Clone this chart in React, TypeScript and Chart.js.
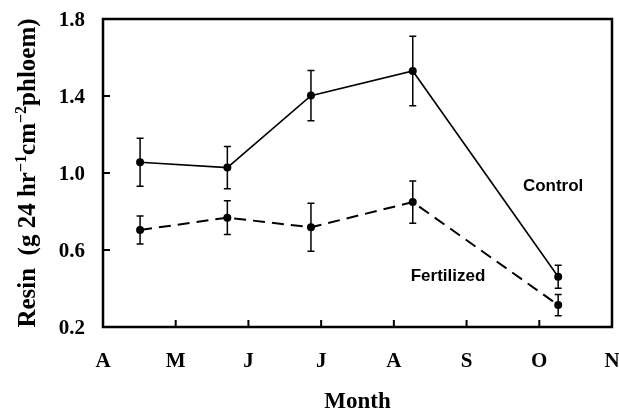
import React, { useEffect, useRef } from 'react';
import { Chart, registerables } from 'chart.js';

Chart.register(...registerables);

// ---- data ----
const monthLabels = ['A', 'M', 'J', 'J', 'A', 'S', 'O', 'N'];
const monthTicks = [0, 1, 2, 3, 4, 5, 6, 7];
const yTicks = [0.2, 0.6, 1.0, 1.4, 1.8];
const sampleMonths = [0.51, 1.71, 2.86, 4.26, 6.26];
const controlMean = [1.056, 1.028, 1.402, 1.53, 0.461];
const controlErr = [0.125, 0.11, 0.13, 0.18, 0.06];
const fertilizedMean = [0.704, 0.768, 0.718, 0.849, 0.314];
const fertilizedErr = [0.073, 0.088, 0.125, 0.11, 0.055];
const seriesNames = ['Control', 'Fertilized'];
const nameMonths = [6.19, 4.745];
const nameValues = [0.932, 0.465];

const SERIF = '"Liberation Serif", "Times New Roman", serif';
const SANS = '"Liberation Sans", Arial, sans-serif';

const customPlugin = {
  id: 'custom',
  beforeDatasetsDraw(chart: any) {
    const { ctx, scales } = chart;
    const x = scales.x;
    const y = scales.y;
    ctx.save();
    ctx.strokeStyle = '#000';
    ctx.lineWidth = 1.5;
    const sets: [number[], number[]][] = [
      [controlMean, controlErr],
      [fertilizedMean, fertilizedErr],
    ];
    sets.forEach(([m, e]) => {
      m.forEach((v, i) => {
        const px = x.getPixelForValue(sampleMonths[i]);
        const top = y.getPixelForValue(v + e[i]);
        const bot = y.getPixelForValue(v - e[i]);
        ctx.beginPath();
        ctx.moveTo(px, top);
        ctx.lineTo(px, bot);
        ctx.moveTo(px - 3.5, top);
        ctx.lineTo(px + 3.5, top);
        ctx.moveTo(px - 3.5, bot);
        ctx.lineTo(px + 3.5, bot);
        ctx.stroke();
      });
    });
    ctx.restore();
  },
  afterDraw(chart: any) {
    const { ctx, chartArea, scales } = chart;
    const x = scales.x;
    const y = scales.y;
    const { left, right, top, bottom } = chartArea;
    ctx.save();
    // frame
    ctx.strokeStyle = '#000';
    ctx.lineWidth = 2.5;
    ctx.strokeRect(left, top, right - left, bottom - top);
    // inward tick marks
    ctx.lineWidth = 2;
    ctx.beginPath();
    monthTicks.forEach((v) => {
      const px = x.getPixelForValue(v);
      ctx.moveTo(px, bottom);
      ctx.lineTo(px, bottom - 7);
    });
    yTicks.forEach((v) => {
      const py = y.getPixelForValue(v);
      ctx.moveTo(left, py);
      ctx.lineTo(left + 7, py);
    });
    ctx.stroke();

    // series name labels
    ctx.fillStyle = '#000';
    ctx.font = `bold 17px ${SANS}`;
    ctx.textAlign = 'center';
    ctx.textBaseline = 'middle';
    seriesNames.forEach((n, i) => {
      ctx.fillText(n, x.getPixelForValue(nameMonths[i]), y.getPixelForValue(nameValues[i]));
    });

    // x title
    ctx.font = `bold 23px ${SERIF}`;
    ctx.textAlign = 'center';
    ctx.textBaseline = 'alphabetic';
    ctx.fillText('Month', (left + right) / 2, 408);

    // y title with superscripts
    const mainFont = `bold 25px ${SERIF}`;
    const supFont = `bold 16px ${SERIF}`;
    const segs: [string, boolean][] = [
      ['Resin  (g 24 hr', false],
      ['\u22121', true],
      ['cm', false],
      ['\u22122', true],
      ['phloem)', false],
    ];
    let total = 0;
    const widths = segs.map(([t, sup]) => {
      ctx.font = sup ? supFont : mainFont;
      const w = ctx.measureText(t).width;
      total += w;
      return w;
    });
    ctx.translate(35, (top + bottom) / 2);
    ctx.rotate(-Math.PI / 2);
    ctx.textAlign = 'left';
    ctx.textBaseline = 'alphabetic';
    let cx = -total / 2;
    segs.forEach(([t, sup], i) => {
      ctx.font = sup ? supFont : mainFont;
      ctx.fillText(t, cx, sup ? -9 : 0);
      cx += widths[i];
    });
    ctx.restore();
  },
};

export default function App() {
  const canvasRef = useRef<HTMLCanvasElement | null>(null);

  useEffect(() => {
    document.body.style.margin = '0';
    const canvas = canvasRef.current;
    if (!canvas) return;
    const chart = new Chart(canvas, {
      type: 'line',
      data: {
        datasets: [
          {
            label: seriesNames[0],
            data: sampleMonths.map((m, i) => ({ x: m, y: controlMean[i] })),
            borderColor: '#000',
            backgroundColor: '#000',
            borderWidth: 1.6,
            pointRadius: 4,
            pointBackgroundColor: '#000',
            pointBorderWidth: 0,
            tension: 0,
          },
          {
            label: seriesNames[1],
            data: sampleMonths.map((m, i) => ({ x: m, y: fertilizedMean[i] })),
            borderColor: '#000',
            backgroundColor: '#000',
            borderWidth: 2,
            borderDash: [12, 7],
            pointRadius: 4,
            pointBackgroundColor: '#000',
            pointBorderWidth: 0,
            tension: 0,
          },
        ],
      },
      options: {
        responsive: false,
        animation: false,
        devicePixelRatio: 1,
        layout: { padding: { top: 19, right: 7, left: 0, bottom: 0 } },
        plugins: {
          legend: { display: false },
          tooltip: { enabled: false },
          title: { display: false },
        },
        scales: {
          x: {
            type: 'linear',
            min: 0,
            max: 7,
            grid: { display: false, drawTicks: false },
            border: { display: false },
            ticks: {
              padding: 22,
              color: '#000',
              font: { family: SERIF, size: 21, weight: 'bold' },
              maxRotation: 0,
              autoSkip: false,
              callback: (v: any) => {
                const idx = monthTicks.indexOf(Number(v));
                return idx >= 0 ? monthLabels[idx] : '';
              },
            },
            afterBuildTicks: (s: any) => {
              s.ticks = monthTicks.map((v) => ({ value: v }));
            },
            afterFit: (s: any) => {
              s.height = 83;
              s.paddingLeft = 0;
              s.paddingRight = 0;
            },
          },
          y: {
            type: 'linear',
            min: 0.2,
            max: 1.8,
            grid: { display: false, drawTicks: false },
            border: { display: false },
            ticks: {
              padding: 18,
              labelOffset: 2,
              color: '#000',
              font: { family: SERIF, size: 21, weight: 'bold' },
              callback: (v: any) => Number(v).toFixed(1),
            },
            afterBuildTicks: (s: any) => {
              s.ticks = yTicks.map((v) => ({ value: v }));
            },
            afterFit: (s: any) => {
              s.width = 103;
              s.paddingTop = 0;
              s.paddingBottom = 0;
            },
          },
        },
      },
      plugins: [customPlugin],
    } as any);
    return () => chart.destroy();
  }, []);

  return (
    <div style={{ width: 619, height: 410, background: '#fff' }}>
      <canvas ref={canvasRef} width={619} height={410} style={{ display: 'block' }} />
    </div>
  );
}
